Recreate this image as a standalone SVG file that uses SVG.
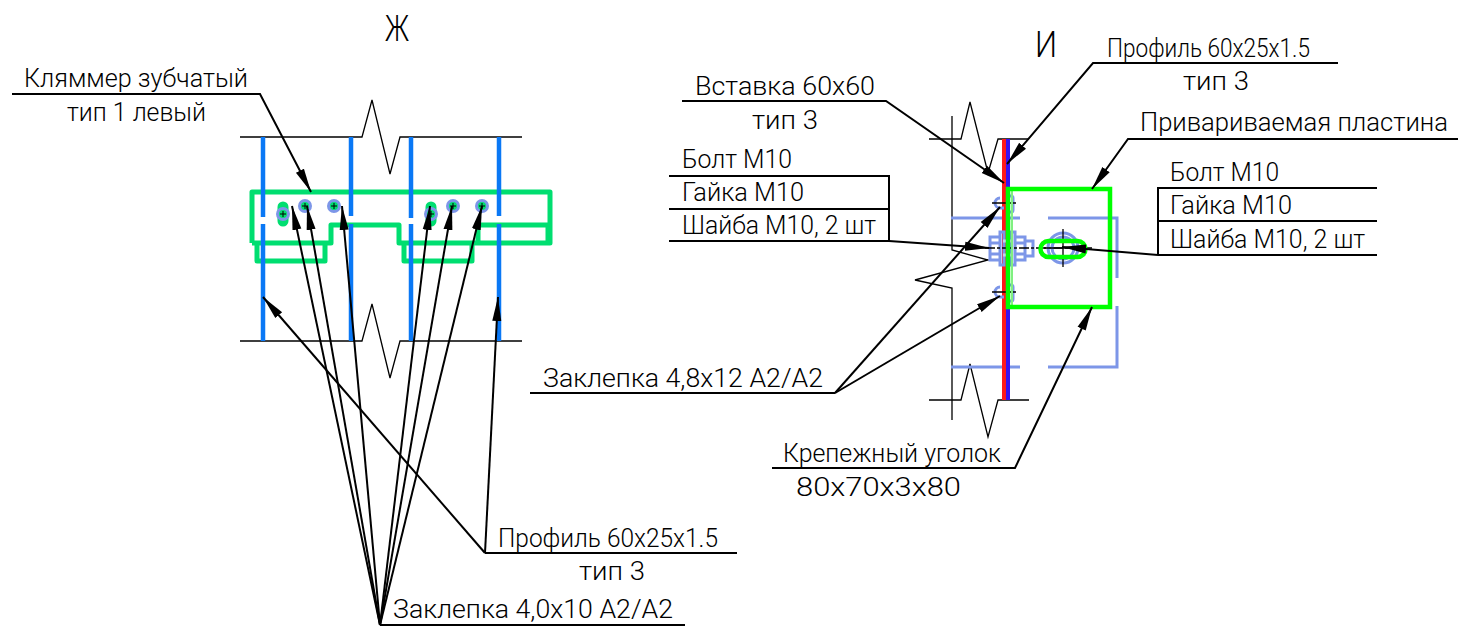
<svg xmlns="http://www.w3.org/2000/svg" width="1458" height="628" viewBox="0 0 1458 628">
<style>
text{font-family:Roboto,"Liberation Sans",sans-serif;font-weight:300;font-size:25px;fill:#000}
.big{font-size:36px}
.thin{fill:none;stroke:#000;stroke-width:1.300}
.lead{fill:none;stroke:#000;stroke-width:2}
.arrow{marker-end:url(#ah)}
.prof{fill:none;stroke:#0a78f5;stroke-width:4.500}
.clamp{fill:none;stroke:#00de70;stroke-width:5;stroke-linejoin:round}
.steel{fill:none;stroke:#7d96e8;stroke-width:3}
.steelb{fill:none;stroke:#7d96e8;stroke-width:3}
.grn{fill:none;stroke:#00ff00;stroke-width:4.500}
.cl{fill:none;stroke:#000;stroke-width:1.300}
</style>
<defs>
<marker id="ah" markerUnits="userSpaceOnUse" markerWidth="26" markerHeight="12" refX="24" refY="6" orient="auto"><path d="M0 1.500L24 6L0 10.500Z" fill="#000"/></marker>
<g id="riv"><circle r="5.500" fill="#00de70" stroke="#7d96e8" stroke-width="3"/><path d="M-3 0H3M0-3V3" stroke="#000" stroke-width="1"/></g>
</defs>
<g id="view-zh">
<text class="big" x="385" y="41" textLength="24" lengthAdjust="spacingAndGlyphs">Ж</text>
<path class="thin" d="M240 137H362L372 100L390 174L400 137H522"/>
<path class="thin" d="M240 341H362L372 304L390 378L400 341H522"/>
<path class="clamp" d="M252 243V192H550V243H478V225H548V243M252 243H331V225H399V243H478M257 243V261H325V243M404 243V261H472V243"/>
<path class="prof" d="M263 137V217M263 224V341M351 137V216M351 224V341M411 137V218M411 224V341M499 137V216M499 224V341"/>
<path d="M283 207V221M431 207V221" stroke="#00de70" stroke-width="11" stroke-linecap="round"/>
<use href="#riv" x="283" y="214"/><use href="#riv" x="305" y="206"/><use href="#riv" x="334" y="206"/>
<use href="#riv" x="431" y="214"/><use href="#riv" x="453" y="206"/><use href="#riv" x="482" y="206"/>
</g>
<g id="view-i">
<text class="big" x="1035" y="57" textLength="22" lengthAdjust="spacingAndGlyphs">И</text>
<path class="thin" d="M929 139H961L970 102L988 173L998 139H1029"/>
<path class="thin" d="M929 400H961L970 364L988 437L998 400H1029"/>
<path class="thin" d="M952 116V250L988 260L915 280L952 288V420"/>
<path class="steelb" d="M951 218H1020M1048 218H1117V278M1117 306V367H1048M1020 367H951"/>
<path d="M1004 139V400" stroke="#ff1a1a" stroke-width="4"/>
<path d="M1008 139V400" stroke="#3a10f0" stroke-width="4"/>
<g id="bolt">
<path class="steel" d="M990 237H1000V260H990ZM1000 232H1004V265H1000ZM1010 232H1015V265H1010ZM1015 237H1025V260H1015ZM1025 241H1033V256H1025ZM990 243H1000M990 254H1000M1015 243H1025M1015 254H1025"/>
<path d="M1003 241H1011M1003 255H1011" stroke="#c8d0ea" stroke-width="3"/>
<path class="cl" stroke-dasharray="10 2 3 2" d="M985 248H1092"/>
</g>
<g id="rivets-i">
<path class="steel" d="M1000 198a5 5 0 0 0 0 10h4M1008 196h3a2 2 0 0 1 2 2v12a2 2 0 0 1-2 2h-3ZM1000 287a5 5 0 0 0 0 10h4M1008 285h3a2 2 0 0 1 2 2v12a2 2 0 0 1-2 2h-3Z"/>
<path class="cl" d="M992 203H1016M992 292H1016"/>
</g>
<g id="plate">
<path d="M1012 191V305" stroke="#80f080" stroke-width="2"/>
<rect class="grn" x="1008" y="189" width="102" height="118"/>
</g>
<g id="slot">
<circle class="steel" cx="1063" cy="248" r="15"/><circle class="steel" cx="1063" cy="248" r="11"/>
<path class="cl" d="M1063 229V267M1044 248H1082"/>
<rect class="grn" x="1040.500" y="241" width="45" height="16" rx="8" ry="8"/>
</g>
</g>
<g id="connectors">
<path class="lead arrow" d="M12 94H260L311 192"/>
<path class="lead" d="M737 553H485"/>
<path class="lead arrow" d="M485 553L263 297"/>
<path class="lead arrow" d="M485 553L498 297"/>
<path class="lead" d="M685 625H380"/>
<path class="lead arrow" d="M380 625L292 206"/>
<path class="lead arrow" d="M380 625L307 206"/>
<path class="lead arrow" d="M380 625L342 206"/>
<path class="lead arrow" d="M380 625L430 206"/>
<path class="lead arrow" d="M380 625L452 206"/>
<path class="lead arrow" d="M380 625L482 206"/>
<path class="lead arrow" d="M1338 63H1093L1007 164"/>
<path class="lead arrow" d="M682 101H886L1004 183"/>
<path class="lead arrow" d="M1458 139H1128L1092 189"/>
<path class="lead" d="M669 176H889V241M669 209H889M669 241H889"/>
<path class="lead arrow" d="M889 241L989 248"/>
<path class="lead" d="M1377 188H1158V255M1158 221H1377M1158 255H1377"/>
<path class="lead arrow" d="M1158 255L1062 247"/>
<path class="lead" d="M530 393H835"/>
<path class="lead arrow" d="M835 393L1000 207"/>
<path class="lead arrow" d="M835 393L1000 296"/>
<path class="lead arrow" d="M772 468H1015L1092 307"/>
</g>
<g id="labels">
<text x="24" y="87" textLength="224" lengthAdjust="spacingAndGlyphs">Кляммер зубчатый</text>
<text x="67" y="121" textLength="139" lengthAdjust="spacingAndGlyphs">тип 1 левый</text>
<text x="498" y="547" textLength="220" lengthAdjust="spacingAndGlyphs">Профиль 60x25x1.5</text>
<text x="579" y="580" textLength="66" lengthAdjust="spacingAndGlyphs">тип 3</text>
<text x="393" y="618" textLength="280" lengthAdjust="spacingAndGlyphs">Заклепка 4,0x10 А2/А2</text>
<text x="1107" y="57" textLength="203" lengthAdjust="spacingAndGlyphs">Профиль 60x25x1.5</text>
<text x="1183" y="90" textLength="66" lengthAdjust="spacingAndGlyphs">тип 3</text>
<text x="695" y="95" textLength="180" lengthAdjust="spacingAndGlyphs">Вставка 60x60</text>
<text x="752" y="129" textLength="66" lengthAdjust="spacingAndGlyphs">тип 3</text>
<text x="1140" y="131" textLength="308" lengthAdjust="spacingAndGlyphs">Привариваемая пластина</text>
<text x="682" y="168" textLength="110" lengthAdjust="spacingAndGlyphs">Болт М10</text>
<text x="682" y="201" textLength="122" lengthAdjust="spacingAndGlyphs">Гайка М10</text>
<text x="682" y="234" textLength="194" lengthAdjust="spacingAndGlyphs">Шайба М10, 2 шт</text>
<text x="1170" y="181" textLength="109" lengthAdjust="spacingAndGlyphs">Болт М10</text>
<text x="1170" y="214" textLength="122" lengthAdjust="spacingAndGlyphs">Гайка М10</text>
<text x="1170" y="248" textLength="195" lengthAdjust="spacingAndGlyphs">Шайба М10, 2 шт</text>
<text x="543" y="387" textLength="280" lengthAdjust="spacingAndGlyphs">Заклепка 4,8x12 А2/А2</text>
<text x="783" y="462" textLength="218" lengthAdjust="spacingAndGlyphs">Крепежный уголок</text>
<text x="796" y="496" textLength="165" lengthAdjust="spacingAndGlyphs">80x70x3x80</text>
</g>
</svg>
